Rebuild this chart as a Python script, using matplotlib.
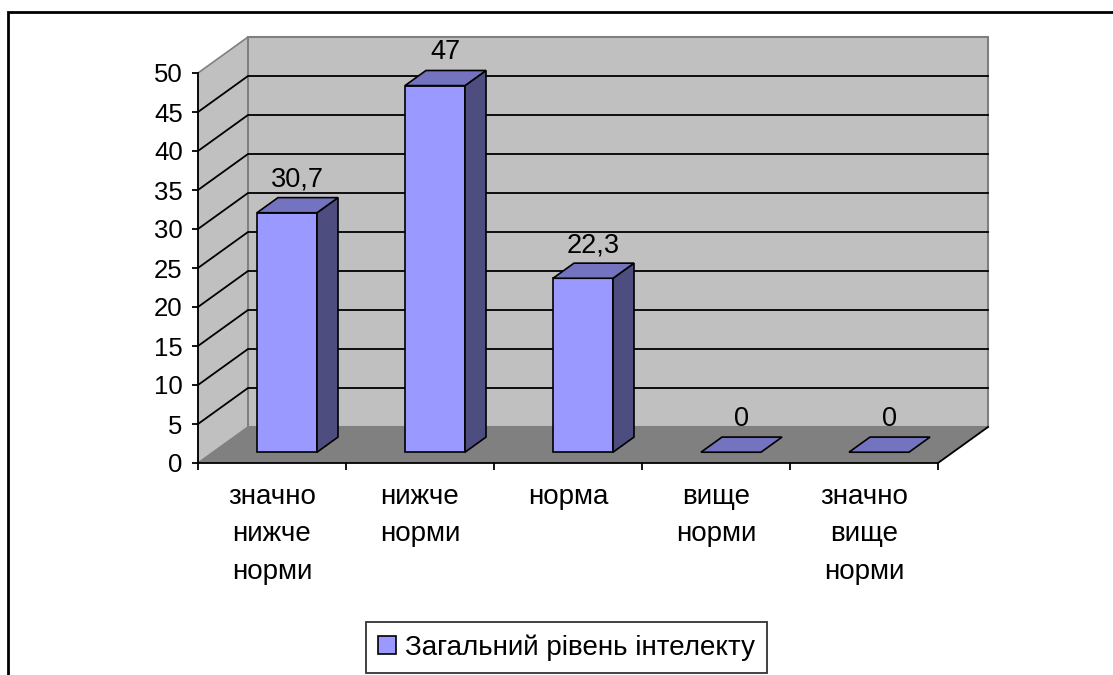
import matplotlib.pyplot as plt
from matplotlib.patches import Polygon, Rectangle, Patch

plt.rcParams['font.family'] = ['Liberation Sans', 'DejaVu Sans']

categories = ['значно\nнижче\nнорми', 'нижче\nнорми', 'норма', 'вище\nнорми', 'значно\nвище\nнорми']
values = [30.7, 47, 22.3, 0, 0]
value_labels = ['30,7', '47', '22,3', '0', '0']
series_name = 'Загальний рівень інтелекту'
y_ticks = list(range(0, 55, 5))

W, H = 1113, 675
fig = plt.figure(figsize=(W / 100, H / 100), dpi=100)

# front plane of the pseudo-3D plot area (pixels)
x0, x1, y0, y1 = 198, 938, 463, 73
ax = fig.add_axes([x0 / W, 1 - y0 / H, (x1 - x0) / W, (y0 - y1) / H])
n = len(categories)
ax.set_xlim(-0.5, n - 0.5)
ax.set_ylim(0, 50)

# depth offset of the back wall in data units (about 50 px right, 36 px up)
px_x = n / (x1 - x0)
px_y = 50 / (y0 - y1)
DX, DY = 50 * px_x, 36 * px_y

wall = '#C0C0C0'
floor = '#808080'
edge = '#808080'
L, R = -0.5, n - 0.5

# floor
ax.add_patch(Polygon([(L, 0), (R, 0), (R + DX, DY), (L + DX, DY)], closed=True,
                     facecolor=floor, edgecolor='none', clip_on=False, zorder=1))
# left wall
ax.add_patch(Polygon([(L, 0), (L + DX, DY), (L + DX, 50 + DY), (L, 50)], closed=True,
                     facecolor=wall, edgecolor=edge, lw=1.2, clip_on=False, zorder=1))
# back wall
ax.add_patch(Rectangle((L + DX, DY), R - L, 50, facecolor=wall, edgecolor=edge, lw=1.5,
                       clip_on=False, zorder=1))
# grid lines
for v in y_ticks[1:-1]:
    ax.plot([L, L + DX, R + DX], [v, v + DY, v + DY], color='black', lw=1.3,
            clip_on=False, zorder=2)
# right floor edge
ax.plot([R, R + DX], [0, DY], color='black', lw=1.3, clip_on=False, zorder=2)

# bars
f0, f1 = 0.3, 0.72
bw = 60 * px_x
front_c = '#9999FF'
top_c = '#7373BF'
side_c = '#4D4D80'
for i, v in enumerate(values):
    xl = i - bw / 2 + f0 * DX
    xr = i + bw / 2 + f0 * DX
    yb = f0 * DY
    yt = v + f0 * DY
    ddx = (f1 - f0) * DX
    ddy = (f1 - f0) * DY
    if v > 0:
        ax.add_patch(Polygon([(xl, yb), (xr, yb), (xr, yt), (xl, yt)], closed=True,
                             facecolor=front_c, edgecolor='black', lw=1.2, zorder=3, clip_on=False))
        ax.add_patch(Polygon([(xr, yb), (xr + ddx, yb + ddy), (xr + ddx, yt + ddy), (xr, yt)],
                             closed=True, facecolor=side_c, edgecolor='black', lw=1.2,
                             zorder=3, clip_on=False))
    ax.add_patch(Polygon([(xl, yt), (xr, yt), (xr + ddx, yt + ddy), (xl + ddx, yt + ddy)],
                         closed=True, facecolor=top_c, edgecolor='black', lw=1.2,
                         zorder=3, clip_on=False))
    ax.annotate(value_labels[i], xy=(i + f0 * DX + ddx / 2, yt + ddy), xytext=(0, 8),
                textcoords='offset points', ha='center', va='baseline', fontsize=19.5,
                zorder=4, annotation_clip=False)

# axes
for s in ['top', 'right']:
    ax.spines[s].set_visible(False)
ax.spines['left'].set_linewidth(1.3)
ax.spines['bottom'].set_linewidth(1.3)
ax.spines['left'].set_zorder(5)
ax.spines['bottom'].set_zorder(5)
ax.patch.set_visible(False)
ax.set_yticks(y_ticks)
ax.set_yticklabels([str(t) for t in y_ticks])
ax.tick_params(axis='y', direction='out', length=4, width=1.3, pad=7, labelsize=18.5)
ax.set_xticks(range(n))
ax.set_xticklabels(categories, linespacing=1.57)
ax.set_xticks([k - 0.5 for k in range(n + 1)], minor=True)
ax.tick_params(axis='x', which='major', length=0, pad=15, labelsize=20)
ax.tick_params(axis='x', which='minor', direction='out', length=5, width=1.3)

# legend
leg = fig.legend(handles=[Patch(facecolor=front_c, edgecolor='black', lw=1.2)],
                 labels=[series_name], loc='center', bbox_to_anchor=(566.5 / W, 1 - 647.5 / H),
                 fontsize=20, frameon=True, fancybox=False, handlelength=0.65,
                 handleheight=0.65, handletextpad=0.3, borderpad=0.45, borderaxespad=0)
leg.get_frame().set_edgecolor('black')
leg.get_frame().set_linewidth(1.3)

# outer chart border
fig.patches.append(Rectangle((8 / W, -0.2), 1.2, 1.2 - 12 / H, transform=fig.transFigure,
                             fill=False, edgecolor='black', lw=2))

fig.savefig('out.png', dpi=100)
